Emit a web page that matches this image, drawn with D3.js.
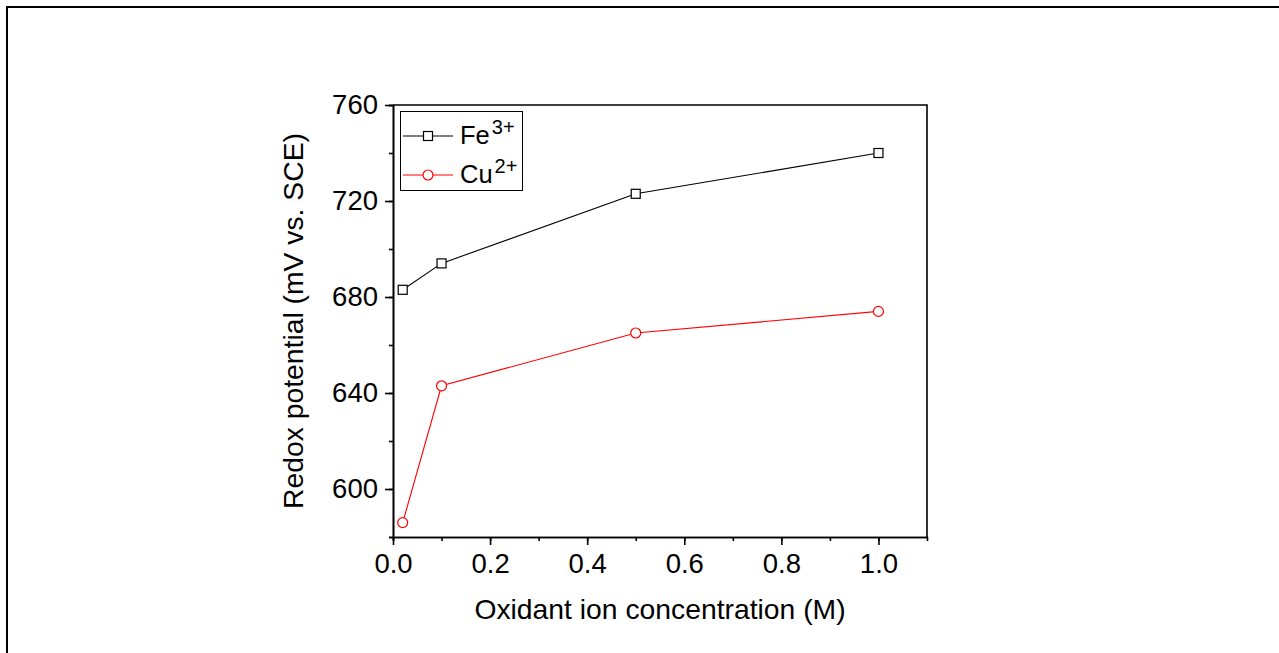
<!DOCTYPE html>
<html>
<head>
<meta charset="utf-8">
<script src="https://cdn.jsdelivr.net/npm/d3@7"></script>
<style>
  body { margin: 0; background: #fff; }
  svg { display: block; font-family: "Liberation Sans", Arial, sans-serif; }
  .axis path, .axis line { stroke: #000; stroke-width: 1.6; }
  .axis text { font-size: 27.5px; fill: #000; }
</style>
</head>
<body>
<svg id="chart" width="1279" height="653"></svg>
<script>
// concentrations (M)
var concentration = [0.02, 0.1, 0.5, 1.0];
// redox potential (mV vs. SCE)
var fe3 = [683, 694, 723, 740];
var cu2 = [586, 643, 665, 674];
var xTicks = [0, 0.2, 0.4, 0.6, 0.8, 1.0];
var yTicks = [600, 640, 680, 720, 760];

var svg = d3.select("#chart"),
    margin = {top: 105, left: 393, right: 1279 - 927, bottom: 653 - 537},
    width = 1279 - margin.left - margin.right,
    height = 653 - margin.top - margin.bottom,
    g = svg.append("g").attr("transform", "translate(" + margin.left + "," + margin.top + ")");

// outer frame (cropped on right and bottom)
svg.append("rect")
    .attr("x", 7).attr("y", 7)
    .attr("width", 1300).attr("height", 700)
    .attr("fill", "none").attr("stroke", "#000").attr("stroke-width", 2);

var x = d3.scaleLinear().domain([0, 1.1]).range([0, width]),
    y = d3.scaleLinear().domain([580, 760]).range([height, 0]);

// minor ticks
g.append("g")
    .attr("class", "axis")
    .attr("transform", "translate(0," + height + ")")
    .call(d3.axisBottom(x).tickValues(d3.range(0, 11).map(function(d) { return d / 10; }))
        .tickSize(4).tickFormat(""));
g.append("g")
    .attr("class", "axis")
    .call(d3.axisLeft(y).tickValues(d3.range(580, 761, 20)).tickSize(4).tickFormat(""));

// major ticks
g.append("g")
    .attr("class", "axis")
    .attr("transform", "translate(0," + height + ")")
    .call(d3.axisBottom(x).tickValues(xTicks).tickSize(8).tickSizeOuter(0).tickPadding(8)
        .tickFormat(d3.format(".1f")));
g.append("g")
    .attr("class", "axis")
    .call(d3.axisLeft(y).tickValues(yTicks).tickSize(8).tickSizeOuter(0).tickPadding(7));

// top and right frame
g.append("path")
    .attr("d", "M0,0H" + width + "V" + height)
    .attr("fill", "none").attr("stroke", "#000").attr("stroke-width", 1.6);

var line = d3.line()
    .x(function(d) { return x(d[0]); })
    .y(function(d) { return y(d[1]); });

var series = [
    {name: "Fe", sup: "3+", values: fe3, color: "#000", shape: "square"},
    {name: "Cu", sup: "2+", values: cu2, color: "#ff0000", shape: "circle"}
];

function drawMarker(sel, s, cx, cy) {
    if (s.shape === "square") {
        sel.append("rect")
            .attr("x", cx - 4.5).attr("y", cy - 4.5)
            .attr("width", 9).attr("height", 9)
            .attr("fill", "#fff").attr("stroke", s.color).attr("stroke-width", 1.2);
    } else {
        sel.append("circle")
            .attr("cx", cx).attr("cy", cy).attr("r", 5)
            .attr("fill", "#fff").attr("stroke", s.color).attr("stroke-width", 1.2);
    }
}

series.forEach(function(s) {
    var pts = concentration.map(function(c, i) { return [c, s.values[i]]; });
    g.append("path")
        .datum(pts)
        .attr("fill", "none")
        .attr("stroke", s.color)
        .attr("stroke-width", 1.1)
        .attr("d", line);
    var m = g.append("g");
    pts.forEach(function(p) { drawMarker(m, s, x(p[0]), y(p[1])); });
});

// legend
var legend = svg.append("g");
legend.append("rect")
    .attr("x", 400.5).attr("y", 111.5)
    .attr("width", 122).attr("height", 79)
    .attr("fill", "#fff").attr("stroke", "#000").attr("stroke-width", 1);

series.forEach(function(s, i) {
    var ly = 136 + i * 39;
    legend.append("line")
        .attr("x1", 403).attr("x2", 453)
        .attr("y1", ly).attr("y2", ly)
        .attr("stroke", s.color).attr("stroke-width", 1.1);
    drawMarker(legend, s, 428, ly);
    var t = legend.append("text")
        .attr("x", 460).attr("y", ly + 8)
        .attr("font-size", 25.5);
    t.append("tspan").text(s.name);
    t.append("tspan").attr("font-size", 20).attr("dx", 2).attr("dy", -10).text(s.sup);
});

// axis titles
svg.append("text")
    .attr("x", margin.left + width / 2)
    .attr("y", 619)
    .attr("text-anchor", "middle")
    .attr("font-size", 28.3)
    .text("Oxidant ion concentration (M)");

svg.append("text")
    .attr("transform", "translate(303," + (margin.top + height / 2) + ") rotate(-90)")
    .attr("text-anchor", "middle")
    .attr("font-size", 28.3)
    .text("Redox potential (mV vs. SCE)");
</script>
</body>
</html>
